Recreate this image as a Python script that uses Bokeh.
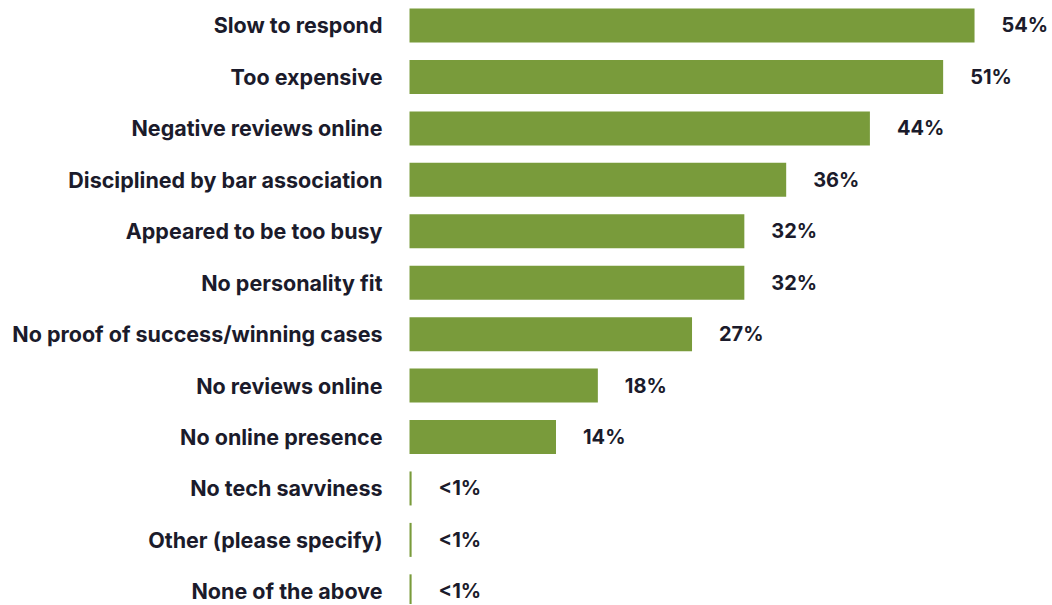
from bokeh.plotting import figure
from bokeh.models import Range1d, ColumnDataSource
from bokeh.core.properties import value
from bokeh.embed import file_html
from bokeh.resources import INLINE

categories = ["Slow to respond", "Too expensive", "Negative reviews online",
              "Disciplined by bar association", "Appeared to be too busy",
              "No personality fit", "No proof of success/winning cases",
              "No reviews online", "No online presence", "No tech savviness",
              "Other (please specify)", "None of the above"]
values = [54, 51, 44, 36, 32, 32, 27, 18, 14, 0.2, 0.2, 0.2]
value_labels = ["54%", "51%", "44%", "36%", "32%", "32%", "27%", "18%", "14%",
                "<1%", "<1%", "<1%"]

idx = list(range(len(categories)))
src = ColumnDataSource(dict(y=idx, v=values, cat=categories, lab=value_labels,
                            zero=[0] * len(idx)))

W, H = 1050, 604
p = figure(width=W, height=H, output_backend="svg", toolbar_location=None,
           x_range=Range1d(-39.09, 61.26), y_range=Range1d(11.256, -0.486),
           min_border=0, outline_line_color=None)
p.axis.visible = False
p.grid.visible = False

color = "#799b3b"
p.hbar(y="y", left=0, right="v", height=0.661, source=src, fill_color=color,
       line_color=None)

font = value("Inter")
p.text(x="zero", y="y", text="cat", source=src, x_offset=-27, text_align="right",
       text_baseline="middle", text_font=font, text_font_style="bold",
       text_font_size="21.5px", text_color="#1b1b2b")
p.text(x="v", y="y", text="lab", source=src, x_offset=27, text_align="left",
       text_baseline="middle", text_font=font, text_font_style="bold",
       text_font_size="20px", text_color="#1b1b2b")

open("out.html", "w").write(file_html(p, INLINE))
